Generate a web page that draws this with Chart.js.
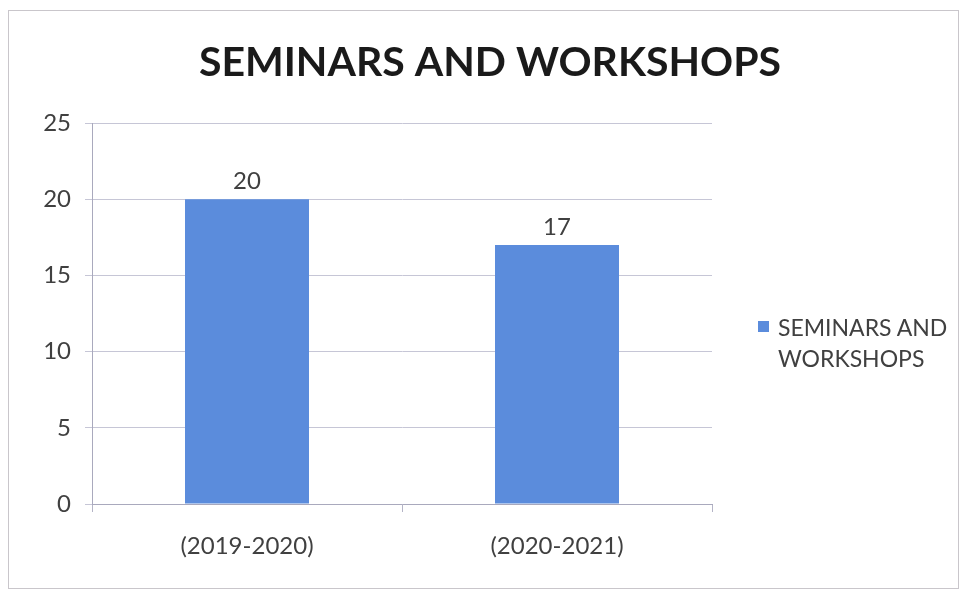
<!DOCTYPE html>
<html>
<head>
<meta charset="utf-8">
<script src="https://cdn.jsdelivr.net/npm/chart.js@4"></script>
<style>
  html, body { margin: 0; padding: 0; background: #fff; }
  #wrap { position: relative; width: 961px; height: 592px; }
  #frame { position: absolute; left: 8px; top: 10px; width: 949px; height: 577px;
           border: 1px solid #c9c6cb; pointer-events: none; }
  #legend { position: absolute; left: 758px; top: 312px; font-family: Lato, sans-serif;
            font-size: 23px; line-height: 31px; color: #404040; }
  #legend .box { position: absolute; left: 0; top: 9px; width: 11px; height: 11px; background: #5b8cdc; }
  #legend .txt { margin-left: 20px; }
</style>
</head>
<body>
<div id="wrap">
  <canvas id="chart" width="961" height="592"></canvas>
  <div id="frame"></div>
  <div id="legend"><span class="box"></span><div class="txt">SEMINARS AND<br>WORKSHOPS</div></div>
</div>
<script>
// values from the picture
const years = ['(2019-2020)', '(2020-2021)'];
const events = [20, 17];
const yTicks = [0, 5, 10, 15, 20, 25];

const blue = '#5b8cdc';
const textGray = '#404040';

// bar value labels above each bar
const valueLabels = {
  id: 'valueLabels',
  afterDatasetsDraw(chart) {
    const ctx = chart.ctx;
    const meta = chart.getDatasetMeta(0);
    ctx.save();
    ctx.font = '24px Lato';
    ctx.fillStyle = textGray;
    ctx.textAlign = 'center';
    ctx.textBaseline = 'bottom';
    meta.data.forEach((bar, i) => {
      ctx.fillText(events[i], bar.x, bar.y - 6);
    });
    ctx.restore();
  }
};

new Chart(document.getElementById('chart'), {
  type: 'bar',
  data: {
    labels: years,
    datasets: [{
      label: 'SEMINARS AND WORKSHOPS',
      data: events,
      backgroundColor: blue,
      barPercentage: 0.4,
      categoryPercentage: 1.0
    }]
  },
  options: {
    responsive: false,
    animation: false,
    layout: { padding: { left: 19, right: 0, top: 0, bottom: 0 } },
    plugins: {
      legend: { display: false },
      tooltip: { enabled: false },
      title: {
        display: true,
        text: 'SEMINARS AND WORKSHOPS',
        color: '#1a1a1a',
        font: { family: 'Lato', size: 41, weight: 'bold', lineHeight: 1.2 },
        padding: { top: 38, bottom: 36 }
      }
    },
    scales: {
      x: {
        afterFit: s => { s.height = 88; },
        border: { color: '#a9a9bd' },
        grid: { drawOnChartArea: false, drawTicks: true, tickLength: 8, color: '#b4b4c6' },
        ticks: { color: textGray, font: { family: 'Lato', size: 24 }, padding: 20 }
      },
      y: {
        min: 0,
        max: 25,
        afterFit: s => { s.width = 73; },
        afterBuildTicks: s => { s.ticks = yTicks.map(v => ({ value: v })); },
        border: { color: '#a9a9bd' },
        grid: { color: '#c6c6d6', tickLength: 7 },
        ticks: { color: textGray, font: { family: 'Lato', size: 24 }, padding: 14 }
      },
      // empty room on the right where the legend sits
      side: {
        type: 'linear',
        position: 'right',
        afterFit: s => { s.width = 249; },
        border: { display: false },
        grid: { display: false },
        ticks: { display: false }
      }
    }
  },
  plugins: [valueLabels]
});
</script>
</body>
</html>
